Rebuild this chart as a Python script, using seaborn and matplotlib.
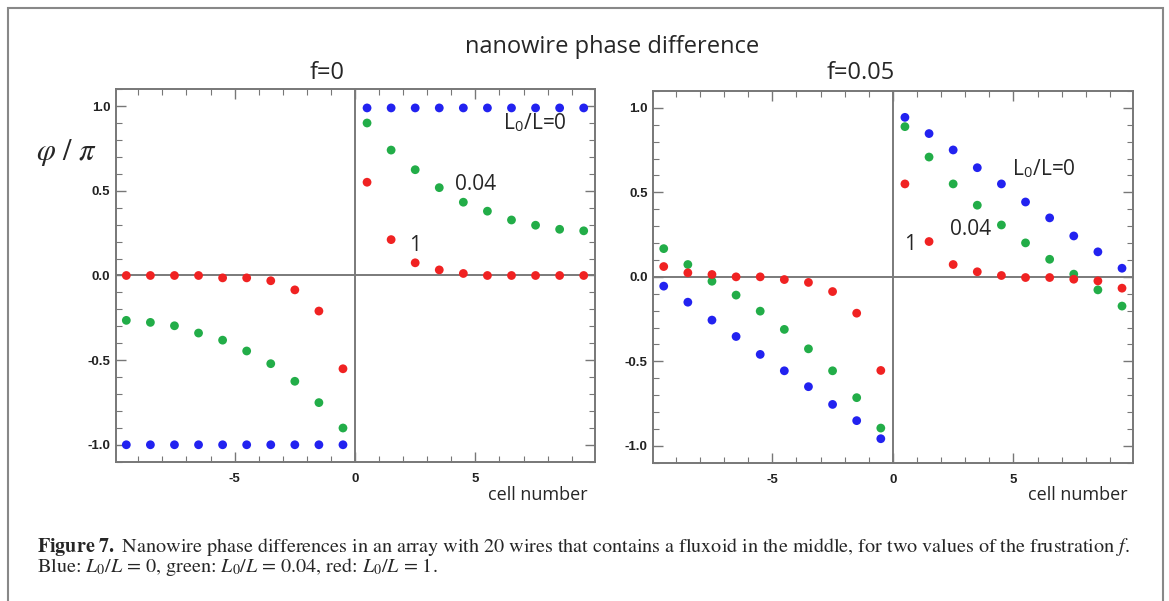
import numpy as np
import pandas as pd
import matplotlib
matplotlib.use("Agg")
import matplotlib.pyplot as plt
from matplotlib.patches import Rectangle
from matplotlib.ticker import MultipleLocator
import seaborn as sns

# cell positions (20 wires, fluxoid in the middle)
cells = [-9.5, -8.5, -7.5, -6.5, -5.5, -4.5, -3.5, -2.5, -1.5, -0.5,
         0.5, 1.5, 2.5, 3.5, 4.5, 5.5, 6.5, 7.5, 8.5, 9.5]

# f = 0
f0_blue = [-1.0] * 10 + [0.99] * 10
f0_green = [-0.265, -0.277, -0.297, -0.340, -0.382, -0.446, -0.521, -0.625, -0.751, -0.901,
            0.901, 0.741, 0.625, 0.519, 0.433, 0.380, 0.328, 0.297, 0.273, 0.264]
f0_red = [0.0, 0.0, 0.0, 0.0, -0.014, -0.014, -0.031, -0.085, -0.21, -0.551,
          0.551, 0.212, 0.075, 0.033, 0.012, 0.0, 0.0, 0.0, 0.0, 0.0]

# f = 0.05
f05_blue = [-0.055, -0.150, -0.256, -0.353, -0.459, -0.556, -0.650, -0.755, -0.851, -0.958,
            0.944, 0.848, 0.751, 0.646, 0.550, 0.443, 0.349, 0.242, 0.148, 0.051]
f05_green = [0.167, 0.073, -0.026, -0.108, -0.203, -0.311, -0.426, -0.556, -0.715, -0.895,
             0.889, 0.709, 0.550, 0.424, 0.307, 0.201, 0.104, 0.016, -0.077, -0.173]
f05_red = [0.061, 0.024, 0.014, 0.0, 0.0, -0.016, -0.033, -0.087, -0.215, -0.554,
           0.550, 0.209, 0.073, 0.030, 0.008, -0.004, -0.004, -0.014, -0.024, -0.067]

ratios = ["0", "0.04", "1"]
palette = {"0": "#2222f0", "0.04": "#22ad48", "1": "#f02222"}


def long_df(blue, green, red):
    parts = []
    for r, vals in zip(ratios, [blue, green, red]):
        parts.append(pd.DataFrame({"cell": cells, "phase": vals, "ratio": r}))
    return pd.concat(parts, ignore_index=True)


df_f0 = long_df(f0_blue, f0_green, f0_red)
df_f05 = long_df(f05_blue, f05_green, f05_red)

sns.set_style("ticks")
plt.rcParams["font.family"] = ["Open Sans", "DejaVu Sans"]
plt.rcParams["mathtext.fontset"] = "stix"

fig = plt.figure(figsize=(11.69, 6.01), dpi=100)

ax1 = fig.add_axes([0.0992, 0.2318, 0.4098, 0.6196])
ax2 = fig.add_axes([0.5589, 0.2301, 0.4106, 0.6185])

for ax, df in [(ax1, df_f0), (ax2, df_f05)]:
    ax.axhline(0, color="#7a7a7a", lw=1.4, zorder=1)
    ax.axvline(0, color="#7a7a7a", lw=1.4, zorder=1)
    sns.scatterplot(data=df, x="cell", y="phase", hue="ratio", palette=palette,
                    s=40, linewidth=0, legend=False, ax=ax, zorder=3)
    ax.set_xlim(-9.93, 9.97)
    ax.set_ylim(-1.1, 1.1)
    ax.xaxis.set_minor_locator(MultipleLocator(1))
    ax.yaxis.set_minor_locator(MultipleLocator(0.1))
    ax.set_xticks([-5, 0, 5])
    ax.set_xticklabels(["-5", "0", "5"])
    ax.set_yticks([-1.0, -0.5, 0.0, 0.5, 1.0])
    ax.set_yticklabels(["-1.0", "-0.5", "0.0", "0.5", "1.0"])
    ax.tick_params(which="both", direction="in", top=True, right=True,
                   color="#777777", labelcolor="#222222")
    ax.tick_params(which="major", length=7, width=1)
    ax.tick_params(which="minor", length=4, width=0.8)
    ax.tick_params(axis="x", which="major", pad=8)
    ax.tick_params(axis="y", which="major", pad=4)
    for lab in ax.get_xticklabels() + ax.get_yticklabels():
        lab.set_fontfamily("Liberation Sans")
        lab.set_fontweight("bold")
        lab.set_fontsize(9.5)
    for sp in ax.spines.values():
        sp.set_color("#777777")
        sp.set_linewidth(1.4)
    ax.set_xlabel("")
    ax.set_ylabel("")

# panel titles and labels
fig.text(612 / 1169, 1 - 47 / 601, "nanowire phase difference", ha="center", va="center", fontsize=17)
fig.text(327 / 1169, 1 - 73 / 601, "f=0", ha="center", va="center", fontsize=17)
fig.text(861 / 1169, 1 - 73 / 601, "f=0.05", ha="center", va="center", fontsize=17)
fig.text(66 / 1169, 1 - 152 / 601, r"$\varphi\ /\ \pi$", ha="center", va="center", fontsize=22)
fig.text(588 / 1169, 1 - 495 / 601, "cell number", ha="right", va="center", fontsize=13)
fig.text(1128 / 1169, 1 - 495 / 601, "cell number", ha="right", va="center", fontsize=13)

# curve labels
lab0 = r"L$_\mathregular{0}$/L=0"
ax1.text(6.15, 0.9, lab0, ha="left", va="center", fontsize=15)
ax1.text(4.15, 0.54, "0.04", ha="left", va="center", fontsize=15)
ax1.text(2.5, 0.18, "1", ha="center", va="center", fontsize=15)
ax2.text(4.94, 0.64, lab0, ha="left", va="center", fontsize=15)
ax2.text(2.38, 0.28, "0.04", ha="left", va="center", fontsize=15)
ax2.text(0.72, 0.19, "1", ha="center", va="center", fontsize=15)

# caption
fig.text(37 / 1169, 1 - 547 / 601,
         r"$\mathbf{Figure\ 7.}$ Nanowire phase differences in an array with 20 wires that contains a fluxoid in the middle, for two values of the frustration $f$.",
         ha="left", va="center", fontsize=14.5, family="STIXGeneral")
fig.text(37 / 1169, 1 - 567 / 601,
         r"Blue: $L_0/L$ = 0, green: $L_0/L$ = 0.04, red: $L_0/L$ = 1.",
         ha="left", va="center", fontsize=14.5, family="STIXGeneral")

# outer frame
fig.patches.append(Rectangle((8 / 1169, -0.05), 1155 / 1169, 1.05 - 8 / 601,
                             transform=fig.transFigure, fill=False,
                             edgecolor="#888888", lw=1.5))

fig.savefig("out.png", dpi=100)
